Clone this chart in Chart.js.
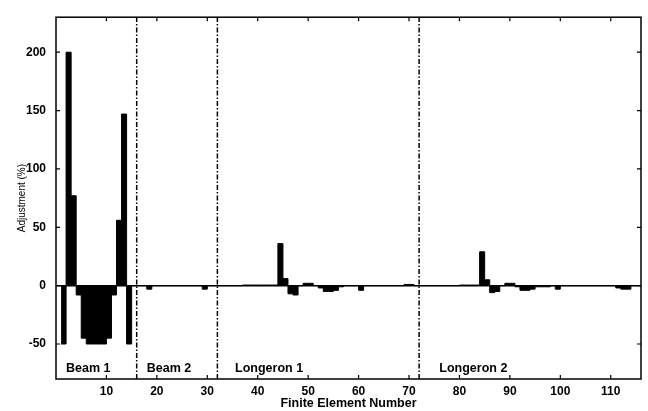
<!DOCTYPE html>
<html>
<head>
<meta charset="utf-8">
<script src="https://cdn.jsdelivr.net/npm/chart.js@4"></script>
<style>
  html, body { margin: 0; padding: 0; background: #fff; }
  #wrap { width: 648px; height: 411px; position: relative; }
</style>
</head>
<body>
<div id="wrap"><canvas id="chart"></canvas></div>
<script>
// adjustment (%) per finite element, one array per structural member
const beam1 = [-50, 200, 77, -8, -45, -50, -50, -50, -50, -45, -8, 56, 147, -50, 0];
const beam2 = [0, 0, -3, 0, 0, 0, 0, 0, 0, 0, 0, 0, 0, -3, 0, 0];
const longeron1 = [
  0, 0, 0, 0, 0, 0.5, 0.5, 0.5, 0.5, 0.5, 0.5, 0.5, 36, 6, -7, -8, 0, 2, 2, 0,
  -2, -5, -5, -4, -1, 0, 0, 0, -4, 0, 0, 0, 0, 0, 0, 0, 0, 1, 1, 0,
];
const longeron2 = [
  0, 0, 0, 0, 0, 0, 0, 0, 0.5, 0.5, 0.5, 0.5, 29, 5, -6, -5, 0, 2, 2, -1, -4, -4,
  -3, -1, -1, -1, 0, -3, 0, 0, 0, 0, 0, 0, 0, 0, 0, 0, 0, -2, -3, -3, 0, 0,
];

const sectionNames = ["Beam 1", "Beam 2", "Longeron 1", "Longeron 2"];
const sectionBounds = [16, 32, 72];
const sectionLabelX = [2, 18, 35.5, 76];
const sectionLabelY = -71;

const xTicks = [10, 20, 30, 40, 50, 60, 70, 80, 90, 100, 110];
const yTicks = [-50, 0, 50, 100, 150, 200];

const adjustments = [...beam1, ...beam2, ...longeron1, ...longeron2];
const elements = adjustments.map((_, i) => i + 1);

const FONT = "'Liberation Sans', Arial, sans-serif";

// stairs: each element holds its value from n to n+1
const stairs = elements.map((n, i) => ({ x: n, y: adjustments[i] }));
stairs.push({ x: elements.length + 1, y: adjustments[adjustments.length - 1] });

const dividers = sectionBounds.map((b) => ({
  type: "line",
  data: [{ x: b, y: -80 }, { x: b, y: 230 }],
  borderColor: "#000",
  borderWidth: 1.5,
  borderDash: [5, 2, 1.5, 2],
  pointRadius: 0,
  fill: false,
}));

const framePlugin = {
  id: "frame",
  afterDraw(chart) {
    const { ctx, chartArea: a, scales } = chart;
    ctx.save();
    ctx.strokeStyle = "#000";
    ctx.lineWidth = 1.5;
    ctx.strokeRect(a.left, a.top, a.right - a.left, a.bottom - a.top);
    ctx.lineWidth = 1.2;
    ctx.beginPath();
    xTicks.forEach((v) => {
      const px = scales.x.getPixelForValue(v);
      ctx.moveTo(px, a.bottom);
      ctx.lineTo(px, a.bottom - 4);
      ctx.moveTo(px, a.top);
      ctx.lineTo(px, a.top + 4);
    });
    yTicks.forEach((v) => {
      const py = scales.y.getPixelForValue(v);
      ctx.moveTo(a.left, py);
      ctx.lineTo(a.left + 4, py);
      ctx.moveTo(a.right, py);
      ctx.lineTo(a.right - 4, py);
    });
    ctx.stroke();

    ctx.fillStyle = "#000";
    ctx.font = "bold 12.5px " + FONT;
    ctx.textAlign = "left";
    ctx.textBaseline = "middle";
    sectionNames.forEach((name, i) => {
      ctx.fillText(
        name,
        scales.x.getPixelForValue(sectionLabelX[i]),
        scales.y.getPixelForValue(sectionLabelY)
      );
    });
    ctx.restore();
  },
};

new Chart(document.getElementById("chart"), {
  type: "line",
  data: {
    datasets: [
      {
        data: stairs,
        stepped: "before",
        borderColor: "#000",
        borderWidth: 1,
        backgroundColor: "#000",
        fill: "origin",
        pointRadius: 0,
      },
      ...dividers,
    ],
  },
  options: {
    responsive: true,
    maintainAspectRatio: false,
    animation: false,
    layout: { padding: { top: 7, right: 7, left: 0, bottom: 0 } },
    plugins: { legend: { display: false }, tooltip: { enabled: false } },
    scales: {
      x: {
        type: "linear",
        min: 0,
        max: 116,
        afterBuildTicks: (scale) => {
          scale.ticks = xTicks.map((v) => ({ value: v }));
        },
        afterFit: (scale) => {
          scale.height = 32;
        },
        grid: { display: false, drawTicks: false },
        border: { display: false },
        ticks: {
          color: "#000",
          font: { family: FONT, size: 12, weight: "bold" },
          padding: 5,
          maxRotation: 0,
        },
        title: {
          display: true,
          text: "Finite Element Number",
          color: "#000",
          font: { family: FONT, size: 12.5, weight: "bold" },
          padding: { top: 0, bottom: 0 },
        },
      },
      y: {
        min: -80,
        max: 230,
        afterBuildTicks: (scale) => {
          scale.ticks = yTicks.map((v) => ({ value: v }));
        },
        afterFit: (scale) => {
          scale.width = 56;
        },
        grid: {
          drawTicks: false,
          lineWidth: 1.5,
          color: (c) => (c.tick && c.tick.value === 0 ? "#000" : "rgba(0,0,0,0)"),
        },
        border: { display: false },
        ticks: {
          color: "#000",
          font: { family: FONT, size: 12, weight: "bold" },
          padding: 10,
        },
        title: {
          display: true,
          text: "Adjustment (%)",
          color: "#000",
          font: { family: FONT, size: 10 },
          padding: { top: 16, bottom: 0 },
        },
      },
    },
  },
  plugins: [framePlugin],
});
</script>
</body>
</html>
